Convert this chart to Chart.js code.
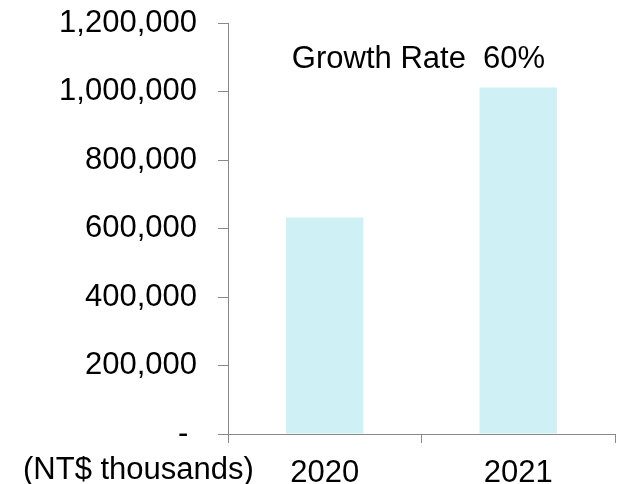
<!DOCTYPE html>
<html>
<head>
<meta charset="utf-8">
<script src="https://cdn.jsdelivr.net/npm/chart.js@4/dist/chart.umd.min.js"></script>
<style>
  html, body { margin: 0; padding: 0; background: #fff; }
  #wrap { width: 619px; height: 484px; }
</style>
</head>
<body>
<div id="wrap"><canvas id="revenue-chart"></canvas></div>
<script>
var years = ['2020', '2021'];
var revenue = [632000, 1012000];
var yTicks = [0, 200000, 400000, 600000, 800000, 1000000, 1200000];
var unitLabel = '(NT$ thousands)';

var axisGray = '#898989';
var fontFamily = '"Liberation Sans", Arial, sans-serif';

// growth between the two years, shown above the bars
var growth = Math.round((revenue[1] / revenue[0] - 1) * 100);

var extraText = {
	id: 'extraText',
	afterDraw: function(chart)
	{
		var ctx = chart.ctx;
		var x = chart.scales.x;
		var y = chart.scales.y;
		ctx.save();
		ctx.fillStyle = '#000';
		ctx.font = '31px ' + fontFamily;
		ctx.textBaseline = 'alphabetic';

		ctx.textAlign = 'center';
		var mid = (x.getPixelForValue(0) + x.getPixelForValue(1)) / 2 - 3;
		ctx.fillText('Growth Rate  ' + growth + '%', mid, y.getPixelForValue(1070000));

		ctx.textAlign = 'left';
		ctx.fillText(unitLabel, 23, 479);
		ctx.restore();
	}
};

var ctx = document.getElementById('revenue-chart').getContext('2d');
var myBarChart = new Chart(ctx, {
	type: 'bar',
	data: {
		labels: years,
		datasets: [{
			data: revenue,
			backgroundColor: '#CFF1F5',
			borderWidth: 0,
			barPercentage: 0.4,
			categoryPercentage: 1.0
		}]
	},
	options: {
		responsive: true,
		maintainAspectRatio: false,
		animation: false,
		layout: { padding: { top: 23, right: 4, bottom: 0, left: 0 } },
		plugins: {
			legend: { display: false },
			tooltip: { enabled: false }
		},
		scales: {
			x: {
				grid: { drawOnChartArea: false, drawTicks: true, tickLength: 9, color: axisGray, lineWidth: 1 },
				border: { color: axisGray, width: 1 },
				ticks: { color: '#000', font: { family: fontFamily, size: 31 }, padding: 12, maxRotation: 0 },
				afterFit: function(scale) {
					scale.height = 50;
					scale.paddingLeft = 0;
					scale.paddingRight = 0;
				}
			},
			y: {
				min: 0,
				max: 1200000,
				afterBuildTicks: function(scale) {
					scale.ticks = yTicks.map(function(v) { return { value: v }; });
				},
				grid: { drawOnChartArea: false, drawTicks: true, tickLength: 10, color: axisGray, lineWidth: 1 },
				border: { color: axisGray, width: 1 },
				ticks: {
					color: '#000',
					font: { family: fontFamily, size: 31 },
					padding: 21,
					callback: function(v) { return v === 0 ? '- ' : v.toLocaleString('en-US'); }
				},
				afterFit: function(scale) {
					// keep the tick padding from pushing the plot area down
					scale.width = 228;
					scale.paddingTop = 0;
					scale.paddingBottom = 0;
				}
			}
		}
	},
	plugins: [extraText]
});
</script>
</body>
</html>
